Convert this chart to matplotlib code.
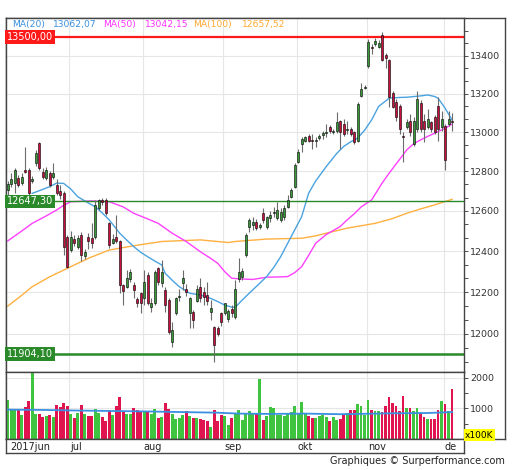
import matplotlib
matplotlib.use('Agg')
import matplotlib.pyplot as plt
import matplotlib.ticker as mticker
import matplotlib.transforms as mtrans
import numpy as np

# DAX daily candles, 7 jun 2017 -> 5 dec 2017
opens = [12705, 12735, 12740, 12765, 12738, 12806, 12806, 12750, 12840, 12943,
         12798, 12765, 12790, 12773, 12730, 12700, 12690, 12472,
         12406, 12460, 12423, 12480, 12375, 12472, 12465, 12472, 12615, 12655,
         12655, 12538, 12440, 12472, 12448, 12235, 12227, 12262, 12235, 12165, 12195,
         12170, 12284, 12130, 12146, 12316, 12244, 12211, 12162, 11963, 12098,
         12175, 12244, 12215, 12098, 12106, 12160, 12227, 12203, 12187, 12106,
         12035, 12030, 12100,
         12098, 12070, 12120, 12080, 12262, 12275, 12382, 12522, 12530, 12546,
         12522, 12588, 12520, 12565, 12590, 12563, 12555, 12571, 12621, 12671, 12721,
         12849, 12940, 12956, 12982, 12960, 12952, 12968, 12985, 12995, 13025,
         13003, 13008, 13060, 13043, 13012, 13017, 13000, 12956, 13188, 13231,
         13343, 13445, 13465, 13448, 13509, 13404, 13378, 13205, 13154, 13137,
         12982, 13025, 13060, 12940, 13017, 13150, 13060, 13025, 13052, 13077,
         13137, 13025,
         13034, 13043, 13060]
highs = [12750, 12790, 12815, 12780, 12790, 12925, 12815, 12775, 12908, 12950,
         12815, 12820, 12800, 12840, 12760, 12730, 12700, 12480,
         12500, 12480, 12480, 12496, 12410, 12488, 12538, 12655, 12662, 12665,
         12665, 12546, 12485, 12580, 12455, 12240, 12308, 12315, 12252, 12175, 12203,
         12308, 12300, 12170, 12308, 12325, 12357, 12227, 12170, 12058, 12179,
         12215, 12308, 12240, 12179, 12114, 12235, 12268, 12227, 12252, 12162,
         12040, 12040, 12106,
         12150, 12120, 12140, 12260, 12365, 12320, 12489, 12563, 12571, 12560,
         12540, 12613, 12575, 12600, 12621, 12646, 12615, 12630, 12680, 12715, 12840,
         12915, 12975, 12980, 12990, 12991, 12974, 12990, 13008, 13043, 13035,
         13015, 13103, 13065, 13068, 13060, 13025, 13008, 13154, 13256, 13245,
         13490, 13460, 13492, 13485, 13525, 13413, 13380, 13213, 13171, 13146,
         13000, 13068, 13094, 13077, 13213, 13165, 13094, 13120, 13060, 13090,
         13180, 13111,
         13040, 13111, 13100]
lows = [12680, 12720, 12690, 12720, 12728, 12790, 12680, 12740, 12825, 12805,
        12760, 12755, 12720, 12760, 12680, 12660, 12380, 12318,
        12395, 12425, 12410, 12350, 12360, 12410, 12415, 12462, 12605, 12630,
        12580, 12414, 12435, 12440, 12195, 12140, 12219, 12250, 12170, 12130, 12098,
        12138, 12140, 12106, 12138, 12235, 12227, 12106, 12000, 11939, 12090,
        12160, 12211, 12180, 12027, 12027, 12154, 12154, 12138, 12138, 12066,
        11868, 11990, 12040,
        12090, 12055, 12080, 12070, 12252, 12260, 12373, 12497, 12505, 12505,
        12510, 12538, 12510, 12545, 12571, 12555, 12545, 12555, 12613, 12665, 12715,
        12840, 12900, 12950, 12948, 12913, 12922, 12960, 12965, 12974, 12998,
        12990, 12995, 12913, 12982, 12991, 12980, 12940, 12948, 13180, 13222,
        13335, 13410, 13450, 13440, 13370, 13334, 13129, 13125, 13060, 12991,
        12849, 13017, 12982, 12931, 13000, 13000, 12948, 13017, 13000, 12990,
        12956, 13008,
        12806, 13034, 13008]
closes = [12735, 12760, 12806, 12730, 12773, 12798, 12690, 12758, 12892, 12815,
          12773, 12806, 12732, 12790, 12690, 12680, 12421, 12325,
          12472, 12440, 12464, 12382, 12398, 12448, 12440, 12630, 12655, 12645,
          12590, 12431, 12462, 12448, 12235, 12205, 12268, 12300, 12211, 12146, 12146,
          12252, 12150, 12150, 12300, 12252, 12300, 12140, 12011, 12019, 12170,
          12180, 12268, 12200, 12170, 12066, 12215, 12170, 12179, 12160, 12125,
          11947, 12000, 12058,
          12146, 12110, 12100, 12215, 12298, 12305, 12480, 12555, 12545, 12513,
          12530, 12555, 12568, 12580, 12595, 12605, 12596, 12613, 12655, 12705, 12832,
          12900, 12962, 12974, 12956, 12955, 12960, 12980, 12998, 13003, 13008,
          13006, 13052, 13000, 12991, 13017, 12991, 12948, 13146, 13222, 13236,
          13475, 13440, 13478, 13470, 13378, 13387, 13180, 13129, 13077, 13017,
          12975, 13052, 13000, 13060, 13171, 13017, 13017, 13068, 13017, 13000,
          13017, 13068,
          12857, 13068, 13052]
volumes = [1283, 978, 935, 989, 793, 1043, 1250, 2207, 815, 815,
           717, 739, 772, 717, 1120, 1043, 1174, 1065,
           815, 685, 848, 1120, 815, 739, 761, 978, 848, 717,
           576, 935, 793, 1065, 1370, 902, 815, 815, 1011, 935, 870,
           870, 870, 815, 978, 685, 717, 1174, 978, 815, 652,
           685, 793, 924, 761, 685, 685, 652, 630, 576, 380,
           935, 576, 793,
           761, 467, 685, 826, 957, 630, 826, 902, 848, 848,
           1957, 630, 761, 1043, 1011, 793, 793, 761, 848, 870, 1087,
           826, 1196, 826, 739, 685, 685, 739, 793, 717, 576,
           717, 630, 652, 793, 848, 957, 957, 1152, 1087, 793,
           1261, 957, 902, 902, 870, 1065, 1359, 1174, 1065, 902,
           1391, 1011, 1011, 902, 1011, 848, 717, 652, 652, 652,
           957, 1228,
           1152, 902, 1630]

month_starts = [18, 39, 62, 83, 103, 125]
month_labels = ['jul', 'aug', 'sep', 'okt', 'nov', 'de']

ma20_days = [7, 10, 12, 14, 16, 18, 20, 23, 25, 27, 29, 32, 34, 36, 38, 40, 42, 44,
             45, 47, 49, 52, 55, 58, 60, 62, 64, 65, 67, 69, 71, 74, 76, 78, 81, 84,
             86, 88, 91, 94, 96, 98, 100, 102, 104, 106, 109, 112, 114, 118, 120,
             122, 123, 125, 127]
ma20_vals = [12688, 12708, 12722, 12740, 12738, 12710, 12671, 12640, 12621, 12590,
             12555, 12489, 12455, 12423, 12395, 12373, 12352, 12333, 12292, 12258,
             12227, 12195, 12187, 12170, 12155, 12138, 12128, 12127, 12162, 12195,
             12227, 12276, 12320, 12373, 12472, 12571, 12689, 12750, 12823, 12890,
             12926, 12950, 12969, 13010, 13063, 13133, 13176, 13180, 13181, 13188,
             13193, 13185, 13176, 13124, 13062]
ma50_days = [0, 4, 7, 11, 14, 16, 18, 24, 29, 33, 36, 40, 43, 47, 51, 55, 58, 60,
             62, 64, 67, 70, 74, 77, 80, 82, 84, 86, 88, 91, 95, 97, 99, 101, 104,
             107, 109, 112, 114, 116, 118, 120, 122, 125, 127]
ma50_vals = [12451, 12500, 12538, 12575, 12605, 12628, 12646, 12650, 12646, 12620,
             12588, 12560, 12538, 12489, 12448, 12398, 12365, 12341, 12300, 12268,
             12264, 12262, 12273, 12274, 12276, 12295, 12324, 12380, 12439, 12482,
             12522, 12555, 12585, 12620, 12655, 12740, 12790, 12860, 12908, 12940,
             12960, 12978, 12994, 13020, 13042]
ma100_days = [0, 4, 7, 12, 17, 23, 29, 36, 44, 55, 63, 65, 74, 84, 88, 91, 97,
              105, 110, 114, 118, 122, 127]
ma100_vals = [12133, 12185, 12227, 12275, 12316, 12365, 12406, 12427, 12448, 12456,
              12443, 12448, 12460, 12464, 12476, 12489, 12514, 12538, 12562, 12588,
              12610, 12630, 12658]
volma_days = [0, 10, 20, 30, 40, 50, 60, 66, 75, 85, 95, 100, 110, 120, 127]
volma_vals = [960, 950, 930, 915, 900, 880, 860, 830, 820, 830, 810, 820, 840, 850, 880]

levels = [13500.00, 12647.30, 11904.10]
level_colors = ['#ff1a1a', '#2a8a2a', '#2a8a2a']

W, H = 512, 470
fig = plt.figure(figsize=(W / 100, H / 100), dpi=100)


def box(l, t, r, b):
    return [l / W, 1 - b / H, (r - l) / W, (b - t) / H]


# outer frame around chart + price scale
frame = fig.add_axes(box(6, 18, 505, 439))
frame.set_xticks([])
frame.set_yticks([])
for s in frame.spines.values():
    s.set_color('#444444')
    s.set_linewidth(1)

ax = fig.add_axes(box(6, 18, 464, 372))
axv = fig.add_axes(box(6, 372, 464, 439), sharex=ax)
axd = fig.add_axes(box(6, 439, 464, 453), sharex=ax)

x = np.arange(len(closes))
o = np.array(opens, dtype=float)
c = np.array(closes, dtype=float)
up = c >= o
green, red = '#3a9a3a', '#c8103e'

# price panel
ax.set_yscale('log')
ax.vlines(x, lows, highs, color='#6b6b6b', lw=0.8, zorder=3)
ax.bar(x[up], (c - o)[up], bottom=o[up], width=0.62, color=green,
       edgecolor='black', lw=0.4, zorder=4)
ax.bar(x[~up], (o - c)[~up], bottom=c[~up], width=0.62, color=red,
       edgecolor='black', lw=0.4, zorder=4)

ax.plot(ma100_days, ma100_vals, color='#ffb040', lw=1.0, zorder=2)
ax.plot(ma50_days, ma50_vals, color='#ff40ff', lw=1.0, zorder=2)
ax.plot(ma20_days, ma20_vals, color='#4aa3e0', lw=1.0, zorder=2)

blend = mtrans.blended_transform_factory(ax.transAxes, ax.transData)
for lv, col, lw in zip(levels, level_colors, [1.6, 1.0, 1.8]):
    ax.axhline(lv, color=col, lw=lw, zorder=2.5)
    ax.text(0.002, lv, f'{lv:.2f}'.replace('.', ','), transform=blend,
            ha='left', va='center', color='white', fontsize=7, zorder=6,
            bbox=dict(boxstyle='square,pad=0.18', fc=col, ec='none'))

ax.set_ylim(11820, 13602)
ax.set_xlim(-0.5, 130.4)
ax.yaxis.tick_right()
ax.yaxis.set_major_locator(mticker.FixedLocator(np.arange(12000, 13401, 200)))
ax.yaxis.set_major_formatter(mticker.FuncFormatter(lambda v, p: f'{v:.0f}'))
ax.yaxis.set_minor_locator(mticker.FixedLocator(np.arange(11800, 13650, 200 / 3)))
ax.yaxis.set_minor_formatter(mticker.NullFormatter())
ax.tick_params(axis='y', which='both', direction='out', length=3, width=0.6,
               colors='#333333', labelsize=6.8, pad=1.5)
ax.set_xticks([m - 0.4 for m in month_starts])
ax.tick_params(axis='x', length=0, labelbottom=False)
ax.grid(True, which='major', color='#e6e6e6', lw=0.8, zorder=0)

# volume panel
vcol = ['#3fc43f' if u else '#e0144e' for u in up]
axv.bar(x, volumes, width=0.78, color=vcol, zorder=2)
axv.plot(volma_days, volma_vals, color='#3b8fe0', lw=1.3, zorder=3)
axv.set_ylim(0, 2190)
axv.yaxis.tick_right()
axv.set_yticks([1000, 2000])
axv.set_yticks([500, 1500], minor=True)
axv.tick_params(axis='y', which='both', direction='out', length=3, width=0.6,
                colors='#333333', labelsize=6.8, pad=1.5)
axv.tick_params(axis='x', length=0, labelbottom=False)
axv.grid(True, which='major', color='#e6e6e6', lw=0.8, zorder=0)

# date row
axd.set_ylim(0, 1)
axd.set_yticks([])
axd.tick_params(axis='x', length=0, labelbottom=False)
axd.text(0.8, 0.45, '2017jun', ha='left', va='center', fontsize=7, color='#222222')
for m, lab in zip(month_starts, month_labels):
    axd.text(m - 0.1, 0.45, lab, ha='left', va='center', fontsize=7,
             color='#222222', clip_on=True)

for a in (ax, axv, axd):
    for s in a.spines.values():
        s.set_color('#444444')
        s.set_linewidth(1)

# legend line at the top of the price panel
legend = [(12, 'MA(20)', '#3a8fdc'), (53, '13062,07', '#3a8fdc'),
          (103, 'MA(50)', '#ff33ff'), (145, '13042,15', '#ff33ff'),
          (193, 'MA(100)', '#ffa833'), (242, '12657,52', '#ffa833')]
for px, txt, col in legend:
    fig.text(px / W, 1 - 25 / H, txt, color=col, fontsize=6.6, ha='left', va='center')

fig.text(465 / W, 1 - 435 / H, 'x100K', fontsize=6.5, ha='left', va='center',
         bbox=dict(boxstyle='square,pad=0.12', fc='#ffff00', ec='none'))
fig.text(505 / W, 1 - 461 / H, 'Graphiques \u00a9 Surperformance.com', ha='right',
         va='center', fontsize=7, color='#222222')

fig.savefig('out.png', dpi=100)
